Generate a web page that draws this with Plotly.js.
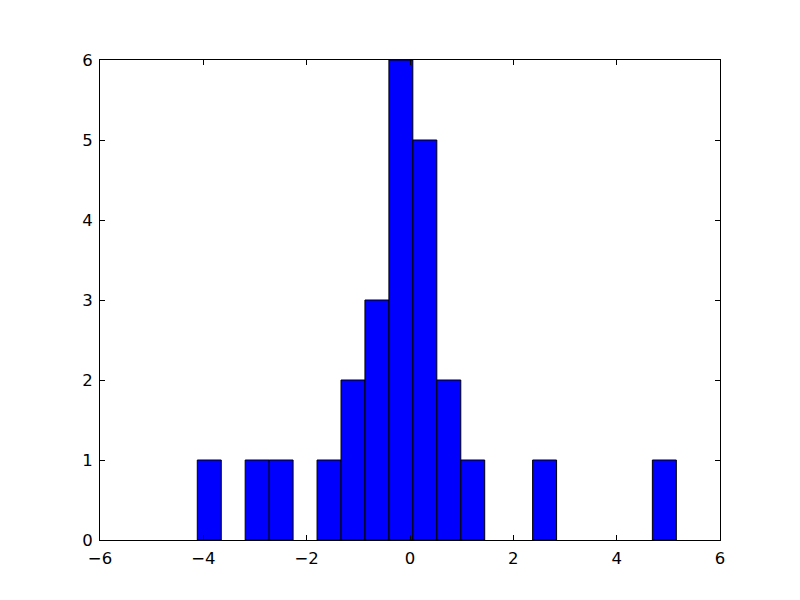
<!DOCTYPE html>
<html>
<head>
<meta charset="utf-8">
<script src="https://cdn.plot.ly/plotly-3.0.1.min.js"></script>
<style>html,body{margin:0;padding:0;background:#fff;}#chart{width:800px;height:600px;}</style>
</head>
<body>
<div id="chart"></div>
<script>
// Histogram bin edges (20 bins) and counts per bin
const binEdges = [-4.117, -3.653, -3.190, -2.726, -2.263, -1.799, -1.335, -0.872, -0.408, 0.055,
                  0.519, 0.983, 1.446, 1.910, 2.373, 2.837, 3.301, 3.764, 4.228, 4.691, 5.155];
const counts = [1, 0, 1, 1, 0, 1, 2, 3, 6, 5, 2, 1, 0, 0, 1, 0, 0, 0, 0, 1];
const xTicks = [-6, -4, -2, 0, 2, 4, 6];
const yTicks = [0, 1, 2, 3, 4, 5, 6];

const centers = [], widths = [], heights = [];
for (let i = 0; i < counts.length; i++) {
  centers.push((binEdges[i] + binEdges[i + 1]) / 2);
  widths.push(binEdges[i + 1] - binEdges[i]);
  heights.push(counts[i] > 0 ? counts[i] : null);
}
const fmt = v => (v < 0 ? '\u2212' + Math.abs(v) : String(v));

const trace = {
  type: 'bar',
  x: centers,
  y: heights,
  width: widths,
  marker: { color: '#0000ff', line: { color: '#000000', width: 1 } },
  hoverinfo: 'x+y'
};

const axisCommon = {
  showline: true, linecolor: '#000', linewidth: 1, mirror: 'ticks',
  ticks: 'inside', ticklen: 5, tickwidth: 1, tickcolor: '#000',
  showgrid: false, zeroline: false,
  tickfont: { family: 'DejaVu Sans', size: 16.5, color: '#000' }
};

const layout = {
  width: 800, height: 600,
  margin: { l: 100, r: 80, t: 60, b: 60 },
  paper_bgcolor: '#fff', plot_bgcolor: '#fff',
  showlegend: false,
  bargap: 0,
  xaxis: Object.assign({}, axisCommon, {
    range: [-6, 6], tickmode: 'array', tickvals: xTicks, ticktext: xTicks.map(fmt),
    ticklabelstandoff: 3
  }),
  yaxis: Object.assign({}, axisCommon, {
    range: [0, 6], tickmode: 'array', tickvals: yTicks, ticktext: yTicks.map(fmt),
    ticklabelstandoff: 3
  })
};

Plotly.newPlot('chart', [trace], layout, { displayModeBar: false, staticPlot: true });
</script>
</body>
</html>
